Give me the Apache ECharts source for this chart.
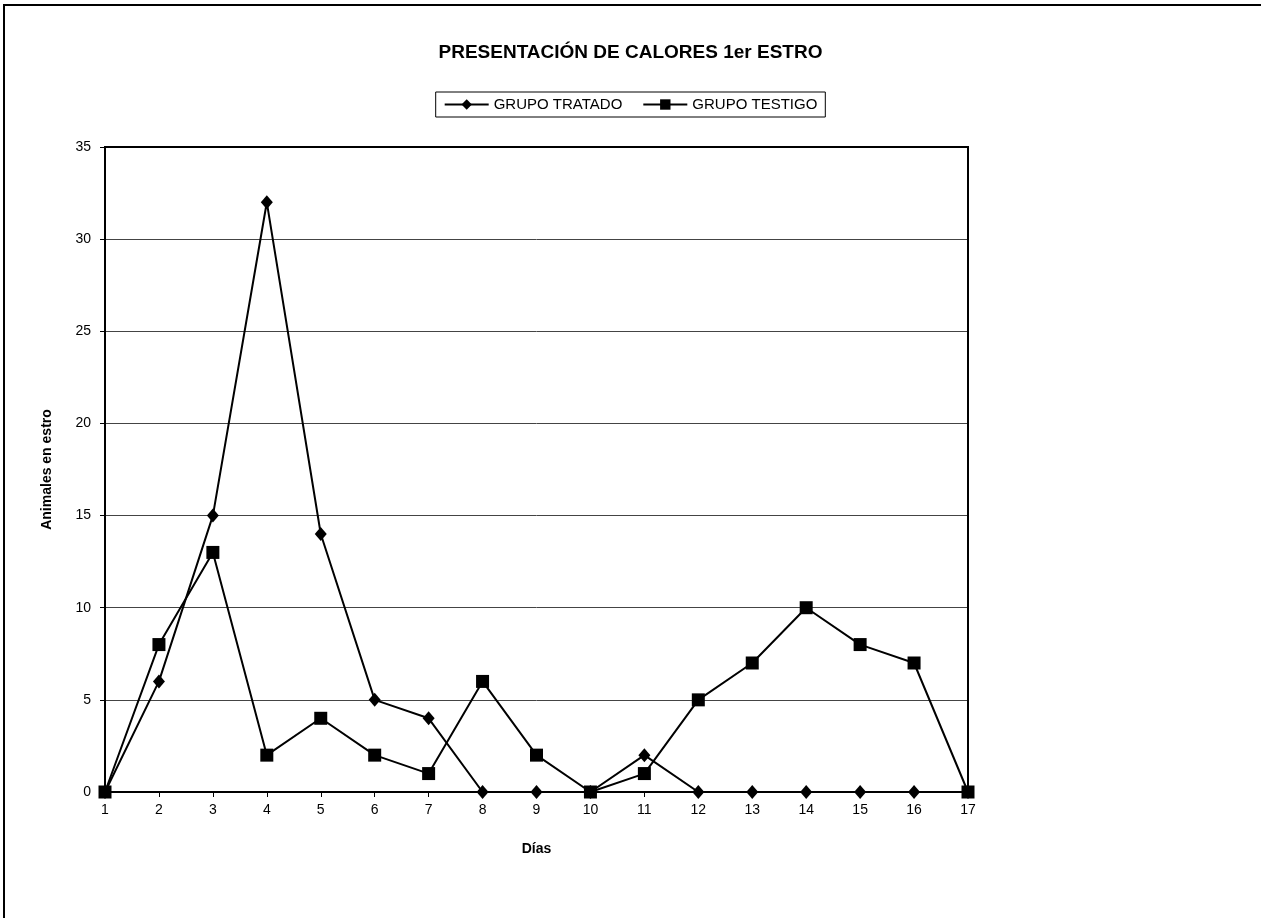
<!DOCTYPE html>
<html>
<head>
<meta charset="utf-8">
<script src="https://cdn.jsdelivr.net/npm/echarts@6/dist/echarts.min.js"></script>
<style>
  html, body { margin: 0; padding: 0; background: #fff; }
  #main { width: 1261px; height: 918px; }
  #frame { position: absolute; left: 3px; top: 4px; right: 0; bottom: 0; border-top: 2px solid #000; border-left: 2px solid #000; pointer-events: none; }
</style>
</head>
<body>
<div id="main"></div>
<div id="frame"></div>
<script>
// dias del ciclo
var dias = ['1','2','3','4','5','6','7','8','9','10','11','12','13','14','15','16','17'];
// animales en estro por dia
var grupoTratado = [0, 6, 15, 32, 14, 5, 4, 0, 0, 0, 2, 0, 0, 0, 0, 0, 0];
var grupoTestigo = [0, 8, 13, 2, 4, 2, 1, 6, 2, 0, 1, 5, 7, 10, 8, 7, 0];

var fuente = '"Liberation Sans", Arial, sans-serif';

var chart = echarts.init(document.getElementById('main'));

var option = {
  backgroundColor: '#fff',
  animation: false,
  title: {
    text: 'PRESENTACIÓN DE CALORES 1er ESTRO',
    left: 'center',
    top: 38,
    textStyle: { fontFamily: fuente, fontSize: 19, fontWeight: 'bold', color: '#000' }
  },
  legend: {
    data: ['GRUPO TRATADO', 'GRUPO TESTIGO'],
    left: 'center',
    top: 92,
    padding: [5, 8],
    itemGap: 20,
    itemWidth: 44,
    itemHeight: 13,
    borderColor: '#000',
    borderWidth: 1,
    textStyle: { fontFamily: fuente, fontSize: 15, color: '#000' }
  },
  grid: { left: 105, right: 293, top: 147, bottom: 126 },
  xAxis: {
    type: 'category',
    data: dias,
    boundaryGap: false,
    name: 'Días',
    nameLocation: 'middle',
    nameGap: 50,
    nameTextStyle: { fontFamily: fuente, fontSize: 14, fontWeight: 'bold', color: '#000' },
    axisLine: { lineStyle: { color: '#000', width: 2 } },
    axisTick: { show: true, alignWithLabel: true, length: 5, lineStyle: { color: '#000' } },
    axisLabel: { fontFamily: fuente, fontSize: 14, color: '#000', margin: 11 },
    splitLine: { show: false }
  },
  yAxis: {
    type: 'value',
    min: 0,
    max: 35,
    interval: 5,
    name: 'Animales en estro',
    nameLocation: 'middle',
    nameGap: 51,
    nameTextStyle: { fontFamily: fuente, fontSize: 14, fontWeight: 'bold', color: '#000' },
    axisLine: { show: true, lineStyle: { color: '#000', width: 2 } },
    axisTick: { show: true, length: 5, lineStyle: { color: '#000' } },
    axisLabel: { fontFamily: fuente, fontSize: 14, color: '#000', margin: 14 },
    splitLine: { show: true, lineStyle: { color: '#444', width: 1 } }
  },
  graphic: [{
    type: 'rect',
    shape: { x: 105, y: 147, width: 863, height: 645 },
    style: { fill: 'none', stroke: '#000', lineWidth: 2 },
    silent: true,
    z: 10
  }],
  series: [
    {
      name: 'GRUPO TRATADO',
      type: 'line',
      data: grupoTratado,
      symbol: 'diamond',
      symbolSize: [12, 14],
      lineStyle: { color: '#000', width: 2 },
      itemStyle: { color: '#000' },
      z: 3
    },
    {
      name: 'GRUPO TESTIGO',
      type: 'line',
      data: grupoTestigo,
      symbol: 'rect',
      symbolSize: 13,
      lineStyle: { color: '#000', width: 2 },
      itemStyle: { color: '#000' },
      z: 4
    }
  ]
};

chart.setOption(option);
</script>
</body>
</html>
